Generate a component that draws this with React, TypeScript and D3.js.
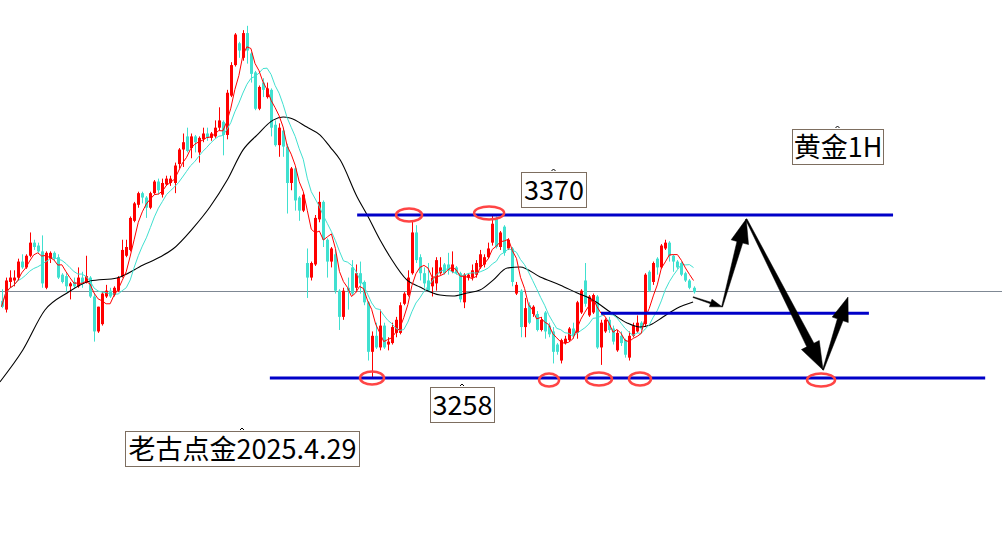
import React from 'react';
import * as d3 from 'd3';

const W = 1002;
const H = 546;

// gold 1H bars: open, high, low, close
const candles: [number, number, number, number][] = [
  [3311, 3319, 3306, 3307], [3305, 3327, 3303, 3325], [3324, 3332, 3320, 3327], [3325, 3332, 3321, 3327],
  [3327, 3340, 3325, 3338], [3338, 3343, 3333, 3334], [3334, 3343, 3333, 3342], [3342, 3358, 3341, 3351],
  [3351, 3353, 3346, 3348], [3349, 3351, 3344, 3345], [3345, 3356, 3320, 3323], [3320, 3345, 3319, 3344],
  [3340, 3345, 3337, 3344], [3344, 3345, 3339, 3340], [3341, 3343, 3326, 3327], [3329, 3330, 3323, 3324],
  [3328, 3330, 3317, 3321], [3321, 3324, 3312, 3323], [3324, 3327, 3320, 3321], [3321, 3334, 3320, 3327],
  [3327, 3331, 3320, 3323], [3324, 3342, 3323, 3328], [3327, 3328, 3313, 3314], [3314, 3316, 3283, 3290],
  [3290, 3307, 3289, 3307], [3295, 3317, 3294, 3316], [3314, 3322, 3313, 3318], [3318, 3320, 3313, 3314],
  [3315, 3321, 3314, 3320], [3318, 3328, 3317, 3327], [3328, 3353, 3327, 3346], [3342, 3353, 3341, 3348],
  [3346, 3369, 3345, 3368], [3366, 3379, 3365, 3378], [3377, 3386, 3375, 3385], [3385, 3386, 3378, 3382],
  [3382, 3383, 3368, 3375], [3375, 3386, 3374, 3385], [3385, 3394, 3384, 3393], [3393, 3395, 3384, 3387],
  [3384, 3395, 3382, 3392], [3391, 3397, 3390, 3395], [3392, 3397, 3390, 3395], [3392, 3406, 3385, 3404],
  [3405, 3416, 3402, 3415], [3415, 3426, 3403, 3420], [3424, 3430, 3413, 3414], [3416, 3426, 3409, 3424],
  [3424, 3425, 3413, 3420], [3413, 3424, 3406, 3423], [3422, 3430, 3420, 3426], [3426, 3430, 3421, 3423],
  [3423, 3427, 3421, 3426], [3424, 3435, 3423, 3430], [3430, 3444, 3428, 3435], [3434, 3435, 3411, 3425],
  [3425, 3456, 3422, 3454], [3452, 3475, 3451, 3473], [3473, 3495, 3472, 3494], [3488, 3489, 3478, 3483],
  [3478, 3497, 3476, 3495], [3495, 3500, 3474, 3483], [3481, 3482, 3461, 3467], [3468, 3469, 3442, 3443],
  [3443, 3459, 3442, 3458], [3461, 3464, 3451, 3456], [3451, 3461, 3450, 3457], [3456, 3457, 3424, 3430],
  [3432, 3435, 3417, 3418], [3418, 3433, 3410, 3430], [3428, 3430, 3410, 3417], [3417, 3419, 3371, 3392],
  [3392, 3403, 3387, 3402], [3402, 3403, 3373, 3380], [3382, 3383, 3366, 3373], [3373, 3385, 3372, 3384],
  [3337, 3347, 3313, 3327], [3327, 3338, 3325, 3337], [3336, 3370, 3335, 3368], [3367, 3386, 3365, 3379],
  [3379, 3380, 3348, 3353], [3353, 3354, 3327, 3338], [3338, 3348, 3334, 3347], [3343, 3346, 3316, 3318],
  [3318, 3319, 3291, 3300], [3300, 3320, 3298, 3318], [3320, 3327, 3305, 3318], [3334, 3339, 3315, 3316],
  [3320, 3336, 3318, 3330], [3330, 3338, 3316, 3323], [3324, 3325, 3308, 3310], [3310, 3311, 3270, 3276],
  [3276, 3290, 3258, 3287], [3287, 3296, 3278, 3279], [3279, 3305, 3277, 3294], [3294, 3296, 3278, 3279],
  [3281, 3286, 3277, 3283], [3282, 3296, 3281, 3293], [3289, 3300, 3286, 3298], [3289, 3310, 3288, 3308],
  [3309, 3317, 3308, 3316], [3315, 3332, 3314, 3327], [3330, 3366, 3329, 3358], [3358, 3363, 3337, 3339],
  [3341, 3343, 3325, 3330], [3330, 3334, 3320, 3323], [3325, 3337, 3317, 3318], [3321, 3334, 3314, 3327],
  [3323, 3341, 3318, 3339], [3330, 3341, 3329, 3334], [3336, 3337, 3329, 3330], [3336, 3344, 3329, 3332],
  [3331, 3345, 3330, 3336], [3334, 3335, 3329, 3330], [3330, 3331, 3310, 3312], [3310, 3330, 3306, 3329],
  [3327, 3330, 3325, 3329], [3327, 3336, 3325, 3332], [3329, 3339, 3327, 3337], [3334, 3346, 3333, 3343],
  [3336, 3343, 3334, 3341], [3341, 3351, 3340, 3347], [3351, 3370, 3349, 3364], [3368, 3369, 3347, 3348],
  [3348, 3359, 3346, 3358], [3362, 3363, 3342, 3344], [3347, 3354, 3346, 3353], [3347, 3348, 3321, 3324],
  [3316, 3324, 3315, 3322], [3318, 3319, 3286, 3293], [3293, 3313, 3286, 3306], [3308, 3310, 3295, 3296],
  [3302, 3308, 3300, 3307], [3302, 3304, 3290, 3291], [3291, 3300, 3290, 3298], [3303, 3304, 3285, 3290],
  [3294, 3296, 3286, 3288], [3290, 3293, 3268, 3276], [3281, 3282, 3274, 3276], [3270, 3285, 3268, 3284],
  [3282, 3287, 3281, 3285], [3284, 3293, 3283, 3292], [3292, 3296, 3285, 3287], [3289, 3311, 3285, 3310],
  [3303, 3319, 3302, 3318], [3325, 3337, 3307, 3309], [3301, 3315, 3300, 3314], [3303, 3316, 3302, 3315],
  [3314, 3315, 3278, 3279], [3279, 3298, 3267, 3296], [3290, 3299, 3289, 3298], [3298, 3300, 3289, 3291],
  [3292, 3294, 3281, 3283], [3277, 3291, 3276, 3289], [3287, 3290, 3280, 3282], [3284, 3285, 3272, 3274],
  [3272, 3290, 3270, 3287], [3287, 3296, 3286, 3294], [3290, 3301, 3289, 3296], [3296, 3297, 3291, 3292],
  [3295, 3330, 3293, 3329], [3331, 3332, 3317, 3318], [3324, 3338, 3322, 3337], [3340, 3341, 3329, 3334],
  [3334, 3350, 3333, 3349], [3347, 3353, 3346, 3351], [3351, 3352, 3338, 3342], [3342, 3343, 3331, 3338],
  [3338, 3339, 3333, 3334], [3337, 3338, 3328, 3329], [3330, 3331, 3324, 3325], [3325, 3326, 3319, 3320],
  [3320, 3321, 3316, 3317],
];

// slow moving average: [bar index, price]
const slowMa: [number, number][] = [
  [-0.4, 3255.3], [5.3, 3277.2], [10.8, 3304.7], [16.3, 3316.4], [22, 3324.6], [28.7, 3326.7],
  [35.2, 3335.6], [39.4, 3341.1], [42.6, 3346.6], [47.6, 3361], [51.8, 3375.5], [56.1, 3394],
  [60, 3414.6], [63.5, 3424.9], [67.5, 3435.2], [70, 3437.3], [71.7, 3436.6], [75.9, 3430.4],
  [79.2, 3424.9], [81.7, 3416.7], [84.2, 3407.8], [88.4, 3382.4], [90.9, 3370], [94.1, 3352.8],
  [96.6, 3341.1], [100.8, 3325.3], [104, 3320.5], [109, 3315], [112.2, 3314.3], [115.7, 3316.4],
  [118.9, 3318.4], [122.2, 3325.3], [125.7, 3333.6], [128.9, 3334.3], [133.9, 3327.4], [138.8, 3321.9],
  [143.1, 3316.4], [147, 3311.6], [151.3, 3303.3], [155.5, 3295.8], [158.7, 3293], [161.2, 3294.4],
  [164.4, 3299.9], [167.9, 3306], [171.9, 3310.2],
];

const currentPrice = 3318;

// support / resistance levels, spanning bar index from..to
const levels = [
  { price: 3370, from: 88.4, to: 221.6 },
  { price: 3302.5, from: 149, to: 215.6 },
  { price: 3258, from: 66.7, to: 244.5 },
];

// highlighted highs / lows: [bar index, price, rx]
const marks: [number, number, number][] = [
  [101.3, 3370, 13], [121.2, 3371.4, 15], [92.1, 3258, 12], [136.1, 3256.6, 10],
  [148.5, 3257.3, 13], [158.7, 3257.3, 11], [203.7, 3256.6, 14],
];

// projected path: [bar index, price]
const forecast: [number, number][] = [
  [171.9, 3313.6], [179.1, 3306.9], [185.1, 3367.2], [204.2, 3263.5], [210.4, 3313.6],
];
const arrowSizes = [
  { w0: 0.8, w1: 1.6, hw: 8, hl: 12 },
  { w0: 1, w1: 6, hw: 18, hl: 24 },
  { w0: 1.5, w1: 8, hw: 20, hl: 28 },
  { w0: 1, w1: 6, hw: 17, hl: 24 },
];

const RED = '#ff0000';
const CYAN = '#40e0d0';
const BLUE = '#0000c8';
const FONT = '"Noto Sans CJK SC", "Noto Sans", sans-serif';

function arrowPath(x1: number, y1: number, x2: number, y2: number, s: typeof arrowSizes[0]) {
  const len = Math.hypot(x2 - x1, y2 - y1);
  const ux = (x2 - x1) / len, uy = (y2 - y1) / len;
  const nx = -uy, ny = ux;
  const bx = x2 - ux * s.hl, by = y2 - uy * s.hl;
  const p = [
    [x1 + nx * s.w0 / 2, y1 + ny * s.w0 / 2],
    [bx + nx * s.w1 / 2, by + ny * s.w1 / 2],
    [bx + nx * s.hw / 2, by + ny * s.hw / 2],
    [x2, y2],
    [bx - nx * s.hw / 2, by - ny * s.hw / 2],
    [bx - nx * s.w1 / 2, by - ny * s.w1 / 2],
    [x1 - nx * s.w0 / 2, y1 - ny * s.w0 / 2],
  ];
  return 'M' + p.map(q => q.join(',')).join('L') + 'Z';
}

function Label({ x, y, w, text }: { x: number; y: number; w: number; text: string }) {
  return (
    <g>
      <path d={`M${x + w / 2 - 2},${y - 1} L${x + w / 2},${y - 3} L${x + w / 2 + 2},${y - 1}`} fill="none" stroke="#000" strokeWidth={1} />
      <rect x={x + 0.5} y={y + 0.5} width={w} height={35} fill="#fff" stroke="#7d6e60" strokeWidth={1} />
      <text x={x + w / 2 + 0.5} y={y + 28} textAnchor="middle" fontFamily={FONT} fontSize={27} fill="#000">{text}</text>
    </g>
  );
}

export default function App() {
  const x = d3.scaleLinear().domain([0, 172]).range([1.5, 693.5]);
  const y = d3.scaleLinear().domain([3258, 3370]).range([378, 215]);

  const closes = candles.map(c => c[3]);
  const sma = (n: number) => closes.map((_, i) => d3.mean(closes.slice(Math.max(0, i - n + 1), i + 1)) as number);
  const fast = sma(5);
  const mid = sma(10);

  const line = d3.line<number>().x((_, i) => x(i)).y(d => y(d));
  const slowLine = d3.line<[number, number]>().x(d => x(d[0])).y(d => y(d[1])).curve(d3.curveMonotoneX);

  return (
    <svg width={W} height={H} style={{ position: 'absolute', left: 0, top: 0, background: '#fff' }}>
      <rect width={W} height={H} fill="#fff" />
      <line x1={0} x2={W} y1={Math.round(y(currentPrice)) + 0.5} y2={Math.round(y(currentPrice)) + 0.5} stroke="#7f8894" strokeWidth={1} />

      {candles.map((c, i) => {
        const [o, h, l, cl] = c;
        const up = cl >= o;
        const cx = Math.round(x(i));
        const top = y(Math.max(o, cl));
        const bot = y(Math.min(o, cl));
        const col = up ? RED : CYAN;
        return (
          <g key={i}>
            <line x1={cx + 0.5} x2={cx + 0.5} y1={y(h)} y2={y(l)} stroke={col} strokeWidth={1} />
            <rect x={cx - 1} y={top} width={3} height={Math.max(1, bot - top)} fill={col} />
          </g>
        );
      })}

      <path d={slowLine(slowMa) || ''} fill="none" stroke="#000" strokeWidth={1.1} />
      <path d={line(mid) || ''} fill="none" stroke={CYAN} strokeWidth={1} />
      <path d={line(fast) || ''} fill="none" stroke={RED} strokeWidth={1} />

      {levels.map((lv, i) => (
        <line key={i} x1={x(lv.from)} x2={x(lv.to)} y1={y(lv.price)} y2={y(lv.price)} stroke={BLUE} strokeWidth={3} />
      ))}

      {marks.map((m, i) => (
        <ellipse key={i} cx={x(m[0])} cy={y(m[1])} rx={m[2]} ry={6.5} fill="none" stroke="#ff4545" strokeWidth={2.5} />
      ))}

      {forecast.slice(1).map((p, i) => {
        const a = forecast[i];
        return <path key={i} d={arrowPath(x(a[0]), y(a[1]), x(p[0]), y(p[1]), arrowSizes[i])} fill="#000" stroke="#000" strokeWidth={0.5} />;
      })}

      <Label x={521} y={y(3370) - 43} w={65} text="3370" />
      <Label x={430} y={y(3258) + 9} w={64} text="3258" />
      <Label x={792} y={129} w={91} text="黄金1H" />
      <Label x={125} y={431} w={234} text="老古点金2025.4.29" />
    </svg>
  );
}
